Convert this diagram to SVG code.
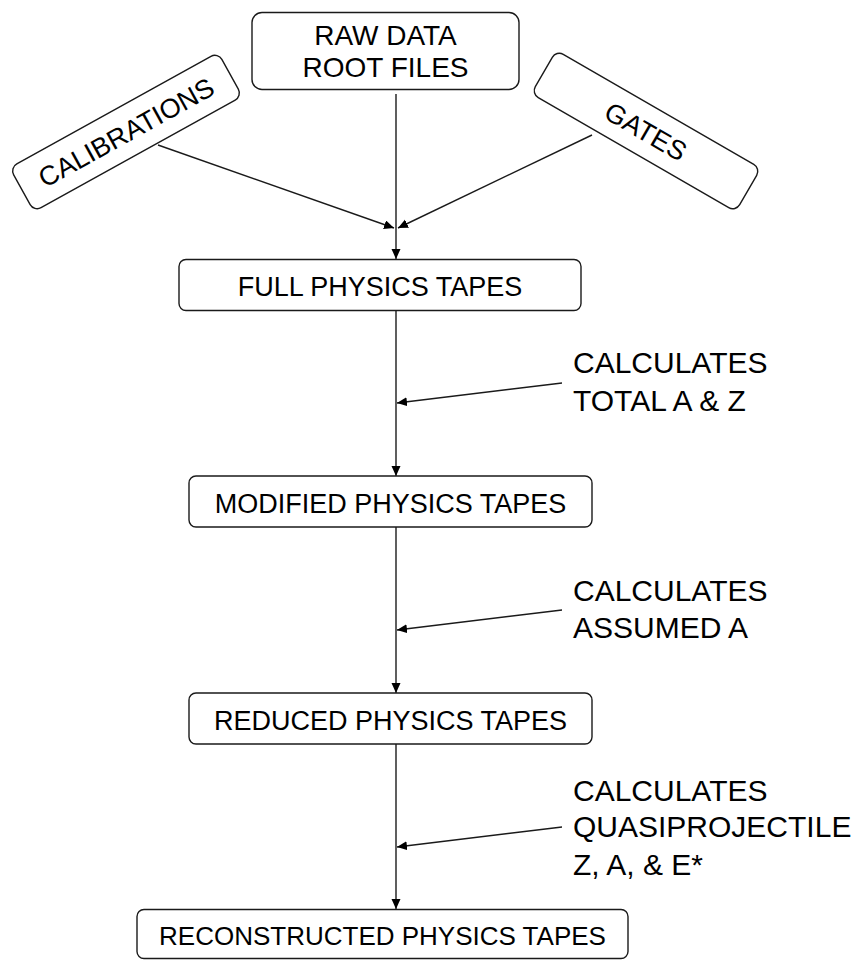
<svg xmlns="http://www.w3.org/2000/svg" width="855" height="960" viewBox="0 0 855 960">
<style>
.box{fill:#fff;stroke:#1a1a1a;stroke-width:1.4}
.t{font-family:"Liberation Sans",Arial,sans-serif;font-size:27px;fill:#000;text-anchor:middle}
.lbl{font-family:"Liberation Sans",Arial,sans-serif;font-size:30px;fill:#000}
.c{fill:none;stroke:#1a1a1a;stroke-width:1.4}
</style>
<defs>
<marker id="ah" markerUnits="userSpaceOnUse" markerWidth="11" markerHeight="10" refX="10" refY="4.5" orient="auto">
<path d="M0,0 L10,4.5 L0,9 z" fill="#000"/>
</marker>
</defs>
<g id="connectors">
<line class="c" x1="396" y1="94" x2="396" y2="259" marker-end="url(#ah)"/>
<line class="c" x1="158" y1="145" x2="394" y2="228" marker-end="url(#ah)"/>
<line class="c" x1="592" y1="135" x2="398" y2="228" marker-end="url(#ah)"/>
<line class="c" x1="396" y1="311" x2="396" y2="476" marker-end="url(#ah)"/>
<line class="c" x1="562" y1="383" x2="397" y2="403" marker-end="url(#ah)"/>
<line class="c" x1="396" y1="527" x2="396" y2="693" marker-end="url(#ah)"/>
<line class="c" x1="562" y1="610" x2="397" y2="630" marker-end="url(#ah)"/>
<line class="c" x1="396" y1="744" x2="396" y2="909" marker-end="url(#ah)"/>
<line class="c" x1="562" y1="827" x2="397" y2="847" marker-end="url(#ah)"/>
</g>
<g id="raw">
<rect class="box" x="252" y="12.5" width="267" height="77" rx="10"/>
<text class="t" x="385.5" y="45" style="font-size:28px">RAW DATA</text>
<text class="t" x="385.5" y="77" style="font-size:28px">ROOT FILES</text>
</g>
<g id="calibrations" transform="translate(126,132) rotate(-29)">
<rect class="box" x="-119" y="-25" width="238" height="50" rx="8"/>
<text class="t" x="0" y="10">CALIBRATIONS</text>
</g>
<g id="gates" transform="translate(646,131) rotate(30)">
<rect class="box" x="-118" y="-25" width="236" height="50" rx="8"/>
<text class="t" x="0" y="10">GATES</text>
</g>
<g id="full">
<rect class="box" x="179" y="259.5" width="402" height="51" rx="7"/>
<text class="t" x="380" y="296">FULL PHYSICS TAPES</text>
</g>
<g id="label1">
<text class="lbl" x="573" y="373">CALCULATES</text>
<text class="lbl" x="573" y="410.5">TOTAL A &amp; Z</text>
</g>
<g id="modified">
<rect class="box" x="189" y="476" width="403" height="51" rx="7"/>
<text class="t" x="390.5" y="513">MODIFIED PHYSICS TAPES</text>
</g>
<g id="label2">
<text class="lbl" x="573" y="601">CALCULATES</text>
<text class="lbl" x="573" y="638">ASSUMED A</text>
</g>
<g id="reduced">
<rect class="box" x="189" y="693" width="403" height="51" rx="7"/>
<text class="t" x="390.5" y="729.5">REDUCED PHYSICS TAPES</text>
</g>
<g id="label3">
<text class="lbl" x="573" y="800.5">CALCULATES</text>
<text class="lbl" x="573" y="837">QUASIPROJECTILE</text>
<text class="lbl" x="573" y="875">Z, A, &amp; E*</text>
</g>
<g id="reconstructed">
<rect class="box" x="137" y="909.5" width="491" height="49" rx="7"/>
<text class="t" x="382.5" y="945" style="font-size:26px">RECONSTRUCTED PHYSICS TAPES</text>
</g>
</svg>
